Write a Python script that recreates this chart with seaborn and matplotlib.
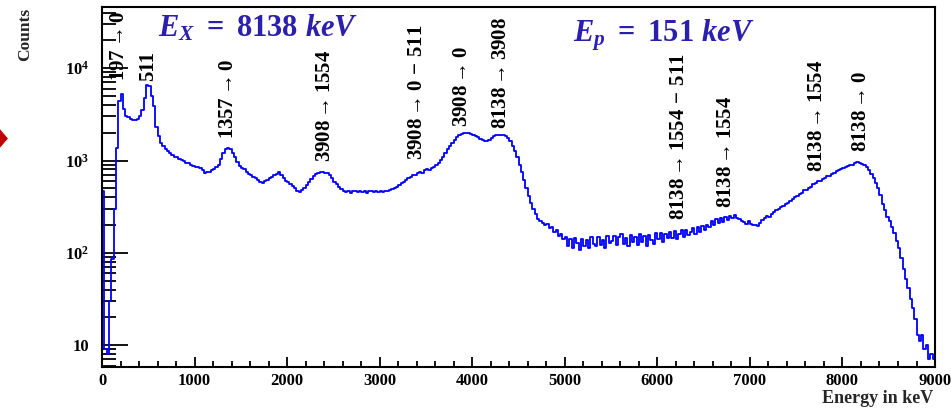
import numpy as np
import pandas as pd
import seaborn as sns
import matplotlib.pyplot as plt
from matplotlib.ticker import MultipleLocator, FixedLocator, LogLocator, NullFormatter
from matplotlib.patches import Polygon

# spectrum, 25 keV bins from 0 to 9000 keV (one row = 500 keV)
bin_width = 25
counts = [
    470, 9, 8, 30, 85, 300, 1350, 4400, 5300, 3600, 3000, 2950, 2850, 2780, 2720, 2800, 3000, 3500, 4800, 6500,
    6400, 5000, 3900, 2300, 1850, 1550, 1420, 1330, 1260, 1200, 1150, 1095, 1080, 1040, 1005, 985, 930, 945, 900, 875,
    860, 850, 820, 790, 740, 760, 745, 780, 800, 840, 900, 1050, 1200, 1330, 1380, 1320, 1200, 1080, 960, 880,
    830, 800, 760, 720, 690, 670, 640, 610, 590, 570, 600, 620, 640, 665, 700, 720, 760, 700, 640, 600,
    580, 560, 530, 500, 470, 455, 480, 500, 540, 590, 630, 680, 720, 735, 760, 745, 730, 735, 690, 640,
    590, 550, 520, 490, 470, 455, 465, 450, 462, 470, 455, 465, 458, 470, 450, 462, 468, 455, 470, 460,
    465, 455, 470, 462, 478, 490, 505, 520, 545, 570, 590, 610, 640, 660, 690, 700, 730, 760, 740, 790,
    810, 780, 830, 860, 900, 950, 1020, 1100, 1200, 1330, 1450, 1560, 1680, 1800, 1880, 1940, 1990, 2000, 1970, 1930,
    1900, 1820, 1780, 1720, 1650, 1620, 1630, 1680, 1760, 1820, 1870, 1900, 1910, 1880, 1820, 1760, 1620, 1450, 1280, 1080,
    900, 760, 620, 500, 410, 350, 300, 262, 235, 222, 212, 198, 206, 184, 192, 170, 176, 152, 160, 140,
    150, 118, 140, 112, 146, 128, 108, 142, 120, 138, 114, 147, 126, 119, 150, 122, 139, 113, 152, 128,
    136, 154, 121, 147, 158, 124, 145, 118, 156, 132, 150, 122, 160, 130, 152, 119, 157, 138, 126, 162,
    140, 164, 132, 158, 143, 168, 146, 172, 140, 160, 176, 150, 178, 156, 170, 184, 160, 190, 168, 194,
    178, 200, 190, 222, 200, 230, 210, 238, 218, 246, 226, 250, 236, 256, 240, 232, 222, 214, 204, 220,
    206, 198, 202, 196, 212, 224, 236, 248, 244, 266, 275, 290, 296, 312, 318, 338, 346, 368, 380, 404,
    412, 436, 448, 474, 482, 510, 522, 560, 568, 596, 600, 630, 640, 672, 684, 716, 736, 770, 784, 812,
    830, 850, 866, 885, 905, 940, 952, 940, 915, 885, 850, 790, 710, 640, 570, 500, 420, 340, 290, 245,
    220, 190, 165, 135, 112, 88, 66, 52, 42, 32, 25, 19, 13, 11, 13, 9, 10, 7, 8, 7,
]

# transition labels
label_texts = [r'$197 \rightarrow 0$', '511', r'$1357 \rightarrow 0$', r'$3908 \rightarrow 1554$',
               r'$3908 \rightarrow 0 \,-\, 511$', r'$3908 \rightarrow 0$', r'$8138 \rightarrow 3908$',
               r'$8138 \rightarrow 1554 \,-\, 511$', r'$8138 \rightarrow 1554$', r'$8138 \rightarrow 1554$',
               r'$8138 \rightarrow 0$']
label_energy = [185, 496, 1359, 2406, 3398, 3894, 4315, 6235, 6742, 7724, 8198]
label_counts = [7220, 7220, 1690, 975, 1025, 2285, 2180, 228, 308, 760, 1222]

x_ticks = [0, 1000, 2000, 3000, 4000, 5000, 6000, 7000, 8000, 9000]
y_ticks = [10, 100, 1000, 10000]
y_tick_labels = ['10', r'$10^{2}$', r'$10^{3}$', r'$10^{4}$']

edges = list(range(0, 9000 + bin_width, bin_width))
df = pd.DataFrame({'energy': np.array(edges[:-1]) + bin_width / 2, 'counts': counts})

sns.set_style('ticks')
plt.rcParams['font.family'] = ['Liberation Serif', 'DejaVu Serif']
plt.rcParams['font.weight'] = 'bold'
plt.rcParams['mathtext.fontset'] = 'custom'
plt.rcParams['mathtext.rm'] = 'Liberation Serif:bold'
plt.rcParams['mathtext.it'] = 'Liberation Serif:italic:bold'
plt.rcParams['mathtext.bf'] = 'Liberation Serif:bold'
plt.rcParams['mathtext.fallback'] = 'stix'

fig = plt.figure(figsize=(9.51, 4.09), dpi=100)
ax = fig.add_axes([0.1073, 0.1027, 0.8759, 0.8802])

sns.histplot(data=df, x='energy', weights='counts', bins=edges, element='step',
             fill=False, color='#0000ff', linewidth=1.3, ax=ax)
ax.set_yscale('log')
ax.set_xlim(0, 9000)
ax.set_ylim(5.8, 4.6e4)
ax.set_xlabel('')
ax.set_ylabel('')

# ROOT-like ticks
ax.xaxis.set_major_locator(FixedLocator(x_ticks))
ax.xaxis.set_minor_locator(MultipleLocator(200))
ax.yaxis.set_major_locator(FixedLocator(y_ticks))
ax.set_yticklabels(y_tick_labels)
ax.yaxis.set_minor_locator(LogLocator(base=10, subs=np.arange(2, 10), numticks=20))
ax.yaxis.set_minor_formatter(NullFormatter())
ax.tick_params(axis='both', which='both', direction='in', top=False, right=False,
               width=1.3, colors='black')
ax.tick_params(axis='y', which='major', length=19, pad=9, labelsize=12)
ax.tick_params(axis='y', which='minor', length=10)
ax.tick_params(axis='x', which='major', length=7.5, pad=4, labelsize=12)
ax.tick_params(axis='x', which='minor', length=4)
for lab in ax.get_xticklabels():
    lab.set_fontweight('bold')
for sp in ax.spines.values():
    sp.set_linewidth(1.5)
    sp.set_color('black')

for txt, e, c in zip(label_texts, label_energy, label_counts):
    ax.text(e, c, txt, rotation=90, ha='center', va='bottom', fontsize=15,
            fontweight='bold', color='black')

ax.text(0.067, 0.917, r'$E_X\ =\ 8138\ keV$', transform=ax.transAxes, color='#2b1fae',
        fontsize=22, ha='left', va='baseline')
ax.text(0.565, 0.903, r'$E_p\ =\ 151\ keV$', transform=ax.transAxes, color='#2b1fae',
        fontsize=22, ha='left', va='baseline')

fig.text(25 / 951, 1 - 8 / 409, 'Counts', rotation=90, ha='center', va='top',
         fontsize=12.5, fontweight='bold')
fig.text(933 / 951, 1 - 390 / 409, 'Energy in keV', ha='right', va='top',
         fontsize=13, fontweight='bold')

# red marker at the left edge
fig.add_artist(Polygon([(-2 / 951, 1 - 128 / 409), (7 / 951, 1 - 138.5 / 409), (-2 / 951, 1 - 149 / 409)],
                       closed=True, transform=fig.transFigure, color='#c00000'))

fig.savefig('out.png', dpi=100)
